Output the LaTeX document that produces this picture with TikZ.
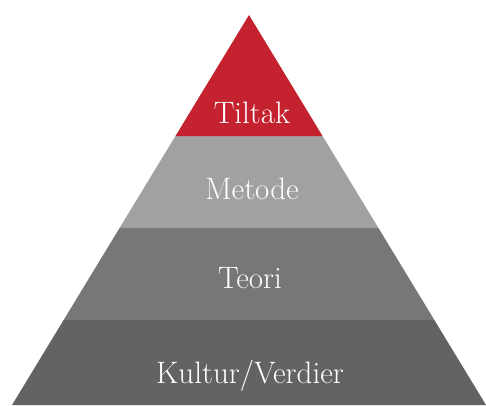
\documentclass[tikz,border=0pt]{standalone}
\usepackage{xcolor}
\usetikzlibrary{calc}
\definecolor{tiltakrot}{HTML}{C4222E}
\definecolor{metodegrau}{HTML}{A1A1A1}
\definecolor{teorigrau}{HTML}{777777}
\definecolor{kulturgrau}{HTML}{636363}
\tikzset{
  Lag/.style={fill=#1, draw=none}, % Schicht der Pyramide
  Etikett/.style={text=white, font=\fontsize{31}{34}\selectfont, anchor=base} % Beschriftung
}
\begin{document}
\begin{tikzpicture}[x=1pt, y=1pt]
\useasboundingbox (0,0) rectangle (486,405);

%Eckpunkte
\coordinate (A) at (249,390);
\coordinate (L) at (12,0);
\coordinate (R) at (486,0);

%Grenzen der Schichten
\foreach \name/\t in {a/0.2179, b/0.4538, c/0.6897}
{
  \coordinate (L\name) at ($(L)!\t!(A)$);
  \coordinate (R\name) at ($(R)!\t!(A)$);
}

%Schichten
\fill[Lag=kulturgrau] (L) -- (R) -- (Ra) -- (La) -- cycle;
\fill[Lag=teorigrau] (La) -- (Ra) -- (Rb) -- (Lb) -- cycle;
\fill[Lag=metodegrau] (Lb) -- (Rb) -- (Rc) -- (Lc) -- cycle;
\fill[Lag=tiltakrot] (Lc) -- (Rc) -- (A) -- cycle;

%Beschriftung
\node[Etikett] (tiltak) at (252,282) {Tiltak};
\node[Etikett] (metode) at (252,206) {Metode};
\node[Etikett] (teori) at (250,117) {Teori};
\node[Etikett] (kultur) at (250,22) {Kultur/Verdier};
\end{tikzpicture}
\end{document}
